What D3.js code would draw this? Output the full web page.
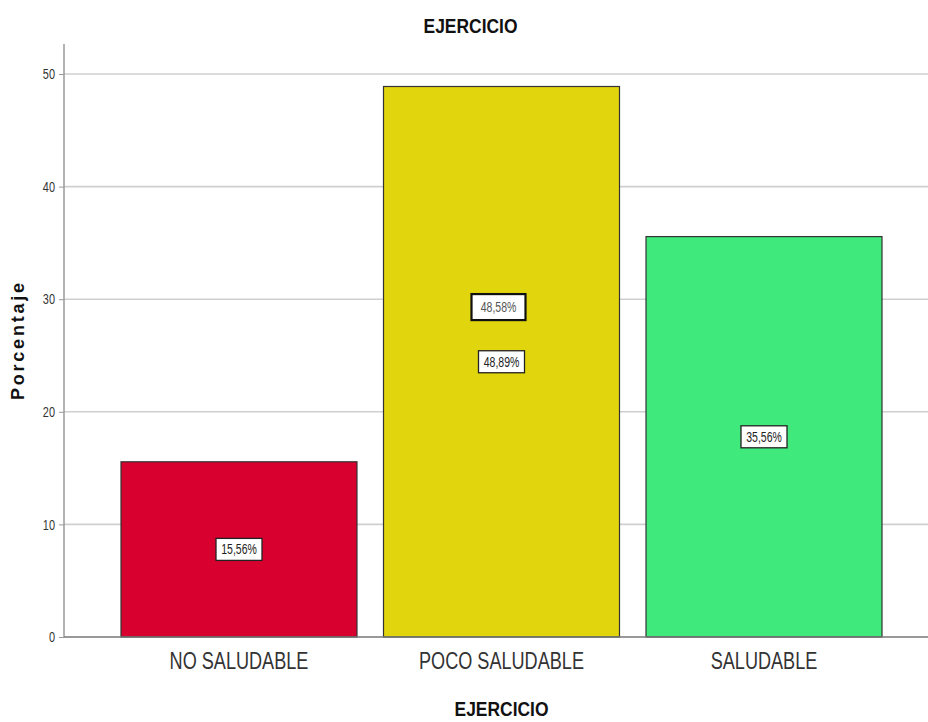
<!DOCTYPE html>
<html>
<head>
<meta charset="utf-8">
<script src="https://cdn.jsdelivr.net/npm/d3@7/dist/d3.min.js"></script>
<style>
html,body{margin:0;padding:0;background:#fff;}
svg{display:block;}
</style>
</head>
<body>
<svg id="chart" width="928" height="722"></svg>
<script>
const categories = ["NO SALUDABLE", "POCO SALUDABLE", "SALUDABLE"];
const values = [15.56, 48.89, 35.56];
const valueLabels = ["15,56%", "48,89%", "35,56%"];
const colors = ["#d7002f", "#e1d50d", "#3fe97b"];
const yTicks = [0, 10, 20, 30, 40, 50];
const strayLabel = {category: "POCO SALUDABLE", value: 29.3, text: "48,58%"};

const font = "'Liberation Sans',Arial,sans-serif";
const svg = d3.select("#chart");

const y = d3.scaleLinear().domain([0, 50]).range([637, 74]);
const x = d3.scaleBand().domain(categories).range([121, 882]).paddingInner(0.101).paddingOuter(0);

function narrowText(g, tx, ty, txt, size, sx, opts = {}) {
  return g.append("text")
    .attr("transform", `translate(${tx},${ty}) scale(${sx},1)`)
    .attr("text-anchor", opts.anchor || "middle")
    .attr("dy", opts.dy || null)
    .attr("font-family", font)
    .attr("font-weight", opts.bold ? "bold" : null)
    .attr("font-size", size)
    .attr("fill", opts.fill || "#222")
    .text(txt);
}

// gridlines
svg.append("g").selectAll("line").data(yTicks.filter(d => d > 0)).join("line")
  .attr("x1", 64).attr("x2", 928)
  .attr("y1", d => y(d)).attr("y2", d => y(d))
  .attr("stroke", "#cfcfcf").attr("stroke-width", 1.6);

// y axis
const yAxis = svg.append("g").attr("transform", "translate(64,0)")
  .call(d3.axisLeft(y).tickValues(yTicks).tickSize(5).tickSizeOuter(0).tickPadding(4));
yAxis.select(".domain").remove();
yAxis.selectAll(".tick line").attr("stroke", "#999");
yAxis.selectAll(".tick text").remove();
yAxis.selectAll(".tick").each(function(d) {
  narrowText(d3.select(this), -9, 0, d, 14, 0.78, {anchor: "end", dy: "0.34em", fill: "#333"});
});
svg.append("line").attr("x1", 64).attr("x2", 64).attr("y1", 44).attr("y2", 637)
  .attr("stroke", "#9a9a9a").attr("stroke-width", 1.5);

// bars
svg.append("g").selectAll("rect").data(categories).join("rect")
  .attr("x", d => x(d))
  .attr("y", (d, i) => y(values[i]))
  .attr("width", x.bandwidth())
  .attr("height", (d, i) => y(0) - y(values[i]))
  .attr("fill", (d, i) => colors[i])
  .attr("stroke", "#333").attr("stroke-width", 1.2);

// baseline
svg.append("line").attr("x1", 64).attr("x2", 928).attr("y1", 637).attr("y2", 637)
  .attr("stroke", "#777").attr("stroke-width", 1.5);

// value labels
const lab = svg.append("g").selectAll("g").data(categories).join("g")
  .attr("transform", (d, i) => `translate(${x(d) + x.bandwidth() / 2},${y(values[i] / 2)})`);
lab.append("rect").attr("x", -23).attr("y", -11).attr("width", 46).attr("height", 22)
  .attr("fill", "#fff").attr("stroke", "#222").attr("stroke-width", 1.3);
lab.each(function(d, i) {
  narrowText(d3.select(this), 0, 0, valueLabels[i], 14, 0.75, {dy: "0.36em", fill: "#222"});
});

// stray label
const st = svg.append("g")
  .attr("transform", `translate(${x(strayLabel.category) + x.bandwidth() / 2 - 3},${y(strayLabel.value)})`);
st.append("rect").attr("x", -27).attr("y", -13).attr("width", 54).attr("height", 26)
  .attr("fill", "#fff").attr("stroke", "#111").attr("stroke-width", 2.2);
narrowText(st, 0, 0, strayLabel.text, 14, 0.75, {dy: "0.36em", fill: "#555"});

// category labels
const catG = svg.append("g");
categories.forEach(c => narrowText(catG, x(c) + x.bandwidth() / 2, 669, c, 23.5, 0.77, {fill: "#333"}));

// titles
narrowText(svg, 470.5, 33, "EJERCICIO", 21, 0.83, {bold: true, fill: "#111"});
narrowText(svg, 501.5, 716, "EJERCICIO", 21, 0.83, {bold: true, fill: "#111"});
svg.append("text").attr("transform", "translate(24,341.5) rotate(-90)").attr("text-anchor", "middle")
  .attr("font-family", font).attr("font-weight", "bold")
  .attr("font-size", 18).attr("fill", "#111")
  .attr("textLength", 117).attr("lengthAdjust", "spacing")
  .text("Porcentaje");
</script>
</body>
</html>
